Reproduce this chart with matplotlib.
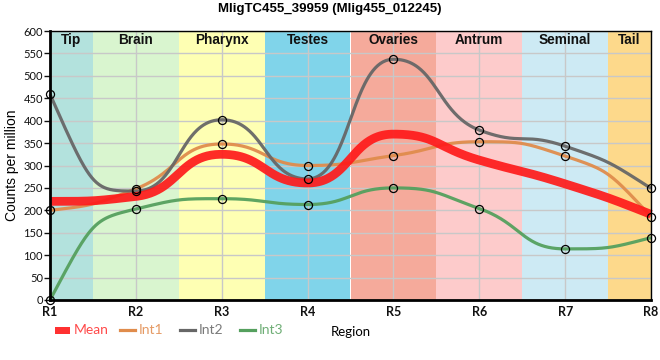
import numpy as np
import matplotlib
matplotlib.use("Agg")
import matplotlib.pyplot as plt
from matplotlib.lines import Line2D
from matplotlib.patches import Rectangle

title = "MligTC455_39959 (Mlig455_012245)"
regions = ["R1", "R2", "R3", "R4", "R5", "R6", "R7", "R8"]
band_names = ["Tip", "Brain", "Pharynx", "Testes", "Ovaries", "Antrum", "Seminal", "Tail"]
band_colors = ["#b3e2dd", "#d9f5cf", "#feffb3", "#80d4ea", "#f5aa9b", "#fdcbcb", "#cdeaf4", "#fdd98b"]

mean_vals = [220, 231, 325, 261, 370, 312, 259, 191]
int1_vals = [200, 248, 348, 300, 322, 353, 321, 186]
int2_vals = [459, 243, 402, 270, 537, 379, 343, 249]
int3_vals = [0, 203, 226, 213, 250, 204, 114, 139]

series_names = ["Mean", "Int1", "Int2", "Int3"]
series_colors = ["#ff1a1a", "#e08c4c", "#676767", "#55a05e"]
text_colors = ["#ff4a4a", "#e59a64", "#7a7a7a", "#6fae76"]


def spline_path(x, y, n=80, sm=1.0):
    """Bezier spline through the points; control points clamped at local extremes."""
    x = np.asarray(x, float)
    y = np.asarray(y, float)
    N = len(x)
    lcx, lcy = x.copy(), y.copy()
    rcx, rcy = x.copy(), y.copy()
    den = sm + 1
    for i in range(1, N - 1):
        lx, ly, nx, ny = x[i - 1], y[i - 1], x[i + 1], y[i + 1]
        px, py = x[i], y[i]
        a_x = (sm * px + lx) / den
        a_y = (sm * py + ly) / den
        b_x = (sm * px + nx) / den
        b_y = (sm * py + ny) / den
        corr = 0.0
        if b_x != a_x:
            corr = (b_y - a_y) * (b_x - px) / (b_x - a_x) + py - b_y
        a_y += corr
        b_y += corr
        if a_y > ly and a_y > py:
            a_y = max(ly, py)
            b_y = 2 * py - a_y
        elif a_y < ly and a_y < py:
            a_y = min(ly, py)
            b_y = 2 * py - a_y
        if b_y > ny and b_y > py:
            b_y = max(ny, py)
            a_y = 2 * py - b_y
        elif b_y < ny and b_y < py:
            b_y = min(ny, py)
            a_y = 2 * py - b_y
        lcx[i], lcy[i], rcx[i], rcy[i] = a_x, a_y, b_x, b_y
    # end segments: share the inner neighbour's control point
    rcx[0], rcy[0] = lcx[1], lcy[1]
    lcx[N - 1], lcy[N - 1] = rcx[N - 2], rcy[N - 2]
    xs, ys = [], []
    u = np.linspace(0, 1, n)
    b0 = (1 - u) ** 3
    b1 = 3 * (1 - u) ** 2 * u
    b2 = 3 * (1 - u) * u ** 2
    b3 = u ** 3
    for i in range(N - 1):
        xs.append(b0 * x[i] + b1 * rcx[i] + b2 * lcx[i + 1] + b3 * x[i + 1])
        ys.append(b0 * y[i] + b1 * rcy[i] + b2 * lcy[i + 1] + b3 * y[i + 1])
    return np.concatenate(xs), np.concatenate(ys)


fig = plt.figure(figsize=(6.6, 3.6), dpi=100)
ax = fig.add_axes([50 / 660, 1 - 300 / 360, 601 / 660, 269 / 360])

xpos = np.arange(1, len(regions) + 1)
for i, (nm, col) in enumerate(zip(band_names, band_colors)):
    ax.axvspan(xpos[i] - 0.5, xpos[i] + 0.5, color=col, zorder=0.1, lw=0)
    if i == 0:
        cx = xpos[i] + 0.25
    elif i == len(regions) - 1:
        cx = xpos[i] - 0.25
    else:
        cx = xpos[i]
    ax.text(cx, 580, nm, ha="center", va="center", fontsize=9.8, fontweight="bold",
            family="Liberation Sans", color="#111111", zorder=3)

ax.set_xlim(1, 8)
ax.set_ylim(0, 600)
ax.set_yticks(np.arange(0, 601, 50))
ax.set_xticks(xpos)
ax.set_xticklabels(regions)
ax.set_axisbelow(True)
ax.grid(True, color="#c8c8c8", lw=1, zorder=0.5)

all_vals = [mean_vals, int1_vals, int2_vals, int3_vals]
for vals, col in zip(all_vals[1:], series_colors[1:]):
    xs, ys = spline_path(xpos, vals)
    ax.plot(xs, ys, color=col, lw=2.3, alpha=0.95, zorder=2, solid_capstyle="butt", clip_on=False)
xs, ys = spline_path(xpos, mean_vals)
ax.plot(xs, ys, color=series_colors[0], lw=6.3, alpha=0.92, zorder=2.5, solid_capstyle="butt", clip_on=False)
for vals in all_vals[1:]:
    ax.plot(xpos, vals, ls="none", marker="o", ms=5.8, mfc="none", mec="black", mew=0.9, zorder=4, clip_on=False)

for side in ["left", "bottom"]:
    ax.spines[side].set_linewidth(2)
for side in ["top", "right"]:
    ax.spines[side].set_linewidth(1)
ax.tick_params(axis="y", length=4, width=1, labelsize=8, pad=1, colors="#111111")
ax.tick_params(axis="x", length=0, labelsize=9, pad=4, colors="#111111")
for lb in ax.get_xticklabels() + ax.get_yticklabels():
    lb.set_family("Lato")
for lb in ax.get_xticklabels():
    lb.set_fontweight("bold")

ax.set_ylabel("Counts per million", fontsize=10, family="Liberation Sans", labelpad=3)
ax.set_xlabel("Region", fontsize=9.5, family="Lato", labelpad=6)
fig.text(330 / 660, 1 - 9 / 360, title, ha="center", va="center", fontsize=9.5,
         fontweight="bold", family="Liberation Sans")

# legend drawn in figure pixel coordinates
leg_x = [55, 120, 180, 240]
leg_y = 330
W, H = 660.0, 360.0
for k, (nm, col, tcol) in enumerate(zip(series_names, series_colors, text_colors)):
    x0 = leg_x[k]
    if k == 0:
        fig.add_artist(Rectangle((x0 / W, 1 - (leg_y + 3.5) / H), 15 / W, 7 / H,
                                 transform=fig.transFigure, facecolor=col, alpha=0.9, edgecolor="none"))
    else:
        fig.add_artist(Line2D([x0 / W, (x0 + 15) / W], [1 - leg_y / H, 1 - leg_y / H],
                              transform=fig.transFigure, color=col, lw=2.3))
    fig.text((x0 + 19) / W, 1 - leg_y / H, nm, ha="left", va="center", fontsize=10,
             family="Lato", color=tcol)

fig.savefig("out.png", dpi=100)
